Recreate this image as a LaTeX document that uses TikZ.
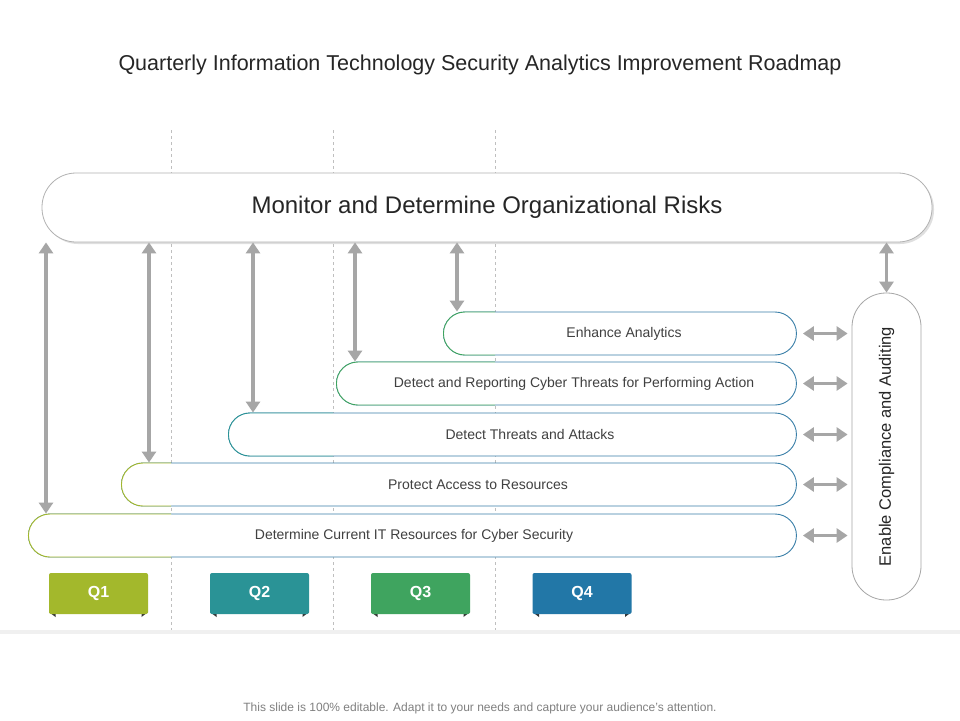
\documentclass[tikz,border=0pt]{standalone}
\usepackage{fontspec}
\setmainfont{Liberation Sans}
\usetikzlibrary{shadows,arrows.meta}
\definecolor{qa}{HTML}{A3B82C}
\definecolor{qb}{HTML}{2A9396}
\definecolor{qc}{HTML}{3FA45F}
\definecolor{qd}{HTML}{2277A7}
\definecolor{bord}{HTML}{3A7FA8}
\definecolor{arr}{HTML}{A6A6A6}
\definecolor{txt}{HTML}{404040}
\tikzset{
  px/.style={x=1pt,y=-1pt},
  bar/.style={draw=bord,line width=0.9pt,fill=white,rounded corners=21.5pt,minimum height=43pt,inner sep=0pt},
  bartxt/.style={font=\fontsize{14}{16}\selectfont,text=txt},
  conn/.style={draw=arr,line width=3.5pt,{Triangle[length=11pt,width=14pt]}-{Triangle[length=11pt,width=14pt]}},
  qbox/.style={minimum width=99pt,minimum height=41pt,inner sep=0pt,text=white,font=\bfseries\fontsize{16}{18}\selectfont,rounded corners=2pt},
  qline/.style={draw=gray!50,dashed,line width=0.5pt}
}
\begin{document}
\begin{tikzpicture}[px]
\useasboundingbox (0,0) rectangle (960,720);
\fill[white] (0,0) rectangle (960,720);
\foreach \x/\n in {171/a,333/b,495/c}{\coordinate (t\n) at (\x,130); \coordinate (b\n) at (\x,630); \draw[qline] (t\n)--(b\n);}
\fill[gray!12] (0,630) rectangle (960,634);
\node[font=\fontsize{21.5}{24}\selectfont,text=black!85] (title) at (480,65) {Quarterly Information Technology Security Analytics Improvement Roadmap};
\node[font=\fontsize{12}{14}\selectfont,text=gray] (foot) at (480,708) {This slide is 100\% editable. Adapt it to your needs and capture your audience's attention.};
\node[draw=gray!60,fill=white,line width=0.8pt,rounded corners=34pt,minimum width=890pt,minimum height=69pt,
  drop shadow={shadow xshift=2pt,shadow yshift=-2pt,opacity=0.25},font=\fontsize{24}{27}\selectfont,text=black!85] (top) at (487,207.5) {Monitor and Determine Organizational Risks};
\node[draw=gray!70,fill=white,line width=0.8pt,rounded corners=34pt,minimum width=69pt,minimum height=307pt] (pill) at (886.5,446.5) {};
\node[rotate=90,font=\fontsize{16.5}{18}\selectfont,text=black!85] (pilltxt) at (886.5,446.5) {Enable Compliance and Auditing};
\newcommand{\mybar}[7]{% name, x1, ymid, text, clipx, color, textx
  \node[bar,minimum width={796-#2},anchor=west] (#1) at (#2,#3) {};
  \begin{scope}\clip (#2-5,#3-25) rectangle (#5,#3+25);
  \node[bar,draw=#6,minimum width={796-#2},anchor=west] at (#2,#3) {};\end{scope}
  \node[bartxt] (#1t) at (#7,#3) {#4};
}
\mybar{e1}{28}{535.5}{Determine Current IT Resources for Cyber Security}{171}{qa}{414}
\mybar{e2}{121}{484.5}{Protect Access to Resources}{171}{qa}{478}
\mybar{e3}{228}{434.5}{Detect Threats and Attacks}{333}{qb}{530}
\mybar{e4}{336}{383.5}{Detect and Reporting Cyber Threats for Performing Action}{495}{qc}{574}
\mybar{e5}{443}{333.5}{Enhance Analytics}{495}{qc}{624}
\draw[conn] (46,0 |- top.south) -- (46,0 |- e1.north);
\draw[conn] (149,0 |- top.south) -- (149,0 |- e2.north);
\draw[conn] (253,0 |- top.south) -- (253,0 |- e3.north);
\draw[conn] (355,0 |- top.south) -- (355,0 |- e4.north);
\draw[conn] (457,0 |- top.south) -- (457,0 |- e5.north);
\draw[conn] (top.south -| pill) -- (pill.north);
\foreach \b in {e1,e2,e3,e4,e5}{\draw[conn] ([xshift=6pt]\b.east) -- ([xshift=-4pt]\b.east -| pill.west);}
\foreach \q/\x/\c in {Q1/98.5/qa,Q2/259.5/qb,Q3/420.5/qc,Q4/582/qd}{
  \fill[black!80] (\x-49.5,612) -- (\x-43,617) -- (\x-43,612) -- cycle;
  \fill[black!80] (\x+49.5,612) -- (\x+43,617) -- (\x+43,612) -- cycle;
  \node[qbox,fill=\c] (\q) at (\x,593.5) {\q};
}
\end{tikzpicture}
\end{document}
